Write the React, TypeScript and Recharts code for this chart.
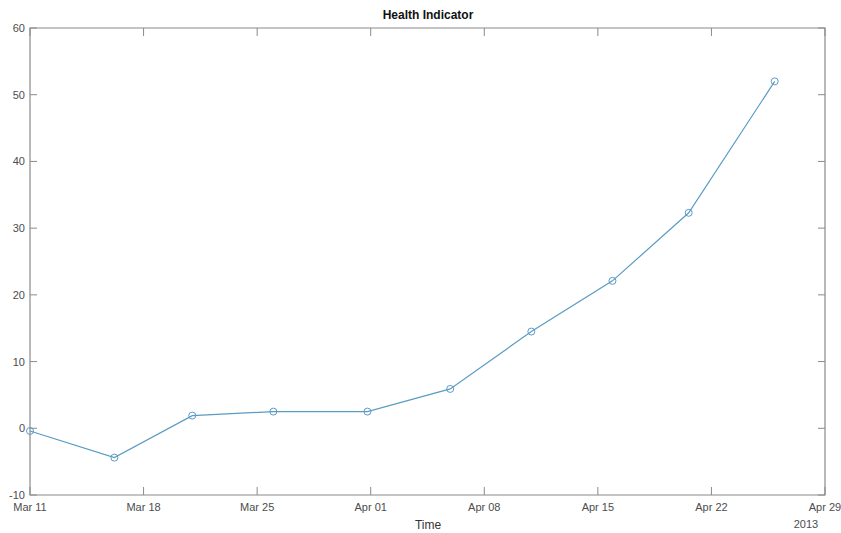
import { LineChart, Line, XAxis, YAxis, ReferenceArea } from "recharts";

// days since Mar 11 2013
const days = [0, 5.2, 10, 15, 20.8, 25.9, 30.9, 35.9, 40.6, 45.9];
const values = [-0.4, -4.4, 1.9, 2.5, 2.5, 5.9, 14.5, 22.1, 32.3, 52];

const xTicks = [0, 7, 14, 21, 28, 35, 42, 49];
const xTickLabels = ["Mar 11", "Mar 18", "Mar 25", "Apr 01", "Apr 08", "Apr 15", "Apr 22", "Apr 29"];
const yTicks = [-10, 0, 10, 20, 30, 40, 50, 60];

const data = days.map((d, i) => ({ day: d, value: values[i] }));

const LINE = "#5b9bc4";
const AXIS = "#8a8a8a";
const TEXT = "#4d4d4d";
const FONT = "'Liberation Sans', Arial, sans-serif";

const PLOT_TOP = 28;
const PLOT_RIGHT = 825;

// MATLAB-style inward ticks, mirrored on the top / right edges of the box
function BottomTick({ x, y, index }: any) {
  return (
    <g>
      <line x1={x} y1={y} x2={x} y2={y - 8} stroke={AXIS} />
      <line x1={x} y1={PLOT_TOP} x2={x} y2={PLOT_TOP + 8} stroke={AXIS} />
      <text x={x} y={y + 16} textAnchor="middle" fontSize={11} fill={TEXT} fontFamily={FONT}>
        {xTickLabels[index]}
      </text>
    </g>
  );
}

function LeftTick({ x, y, payload }: any) {
  return (
    <g>
      <line x1={x} y1={y} x2={x + 7} y2={y} stroke={AXIS} />
      <line x1={PLOT_RIGHT} y1={y} x2={PLOT_RIGHT - 7} y2={y} stroke={AXIS} />
      <text x={x - 5} y={y + 4} textAnchor="end" fontSize={11} fill={TEXT} fontFamily={FONT}>
        {payload.value}
      </text>
    </g>
  );
}

export default function App() {
  return (
    <div style={{ position: "absolute", left: 0, top: 0, width: 841, height: 533, background: "#fff", fontFamily: FONT }}>
      <LineChart width={841} height={533} data={data} margin={{ top: PLOT_TOP, right: 841 - PLOT_RIGHT, bottom: 0, left: 0 }}>
        <XAxis
          dataKey="day"
          type="number"
          domain={[0, 49]}
          ticks={xTicks}
          interval={0}
          height={38}
          tickSize={0}
          tickMargin={0}
          axisLine={false}
          tick={<BottomTick />}
        />
        <YAxis
          type="number"
          domain={[-10, 60]}
          ticks={yTicks}
          interval={0}
          width={30}
          tickSize={0}
          tickMargin={0}
          axisLine={false}
          tick={<LeftTick />}
        />
        <ReferenceArea x1={0} x2={49} y1={-10} y2={60} fill="none" stroke={AXIS} strokeWidth={1.2} fillOpacity={0} />
        <Line
          type="linear"
          dataKey="value"
          stroke={LINE}
          strokeWidth={1.2}
          dot={{ r: 3.5, fill: "none", stroke: LINE, strokeWidth: 1 }}
          activeDot={false}
          isAnimationActive={false}
        />
      </LineChart>
      <div style={{ position: "absolute", left: 0, width: 856, top: 8, textAlign: "center", fontSize: 12, fontWeight: "bold", color: "#111", lineHeight: "14px" }}>
        Health Indicator
      </div>
      <div style={{ position: "absolute", left: 0, width: 856, top: 518, textAlign: "center", fontSize: 12, color: "#333", lineHeight: "14px" }}>
        Time
      </div>
      <div style={{ position: "absolute", left: 786, width: 40, top: 517, textAlign: "center", fontSize: 11, color: TEXT, lineHeight: "14px" }}>
        2013
      </div>
    </div>
  );
}
